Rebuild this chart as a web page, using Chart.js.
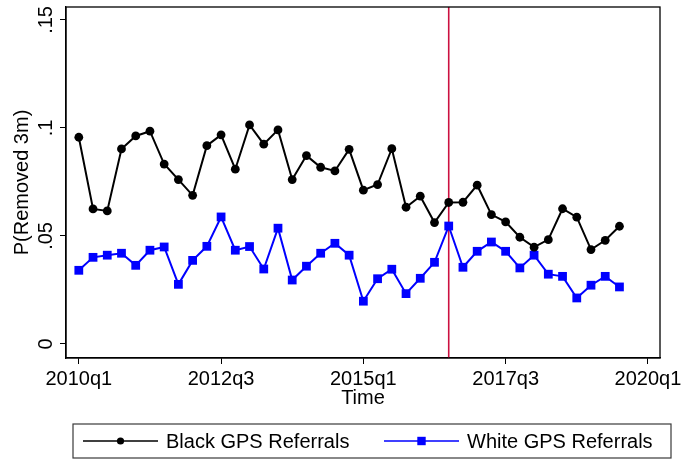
<!DOCTYPE html>
<html>
<head>
<meta charset="utf-8">
<script src="https://cdn.jsdelivr.net/npm/chart.js@4/dist/chart.umd.min.js"></script>
<style>
  html, body { margin: 0; padding: 0; background: #fff; }
  #wrap { width: 682px; height: 464px; }
</style>
</head>
<body>
<div id="wrap"><canvas id="c" width="682" height="464"></canvas></div>
<script>
// Quarterly series, 2010q1 .. 2019q3
const quarters = [
  '2010q1','2010q2','2010q3','2010q4','2011q1','2011q2','2011q3','2011q4',
  '2012q1','2012q2','2012q3','2012q4','2013q1','2013q2','2013q3','2013q4',
  '2014q1','2014q2','2014q3','2014q4','2015q1','2015q2','2015q3','2015q4',
  '2016q1','2016q2','2016q3','2016q4','2017q1','2017q2','2017q3','2017q4',
  '2018q1','2018q2','2018q3','2018q4','2019q1','2019q2','2019q3'
];
const blackGps = [
  0.0957, 0.0625, 0.0616, 0.0903, 0.0963, 0.0985, 0.0833, 0.0761,
  0.0688, 0.0918, 0.0968, 0.0809, 0.1014, 0.0925, 0.0991, 0.0761,
  0.0872, 0.0818, 0.0801, 0.0901, 0.0712, 0.0738, 0.0904, 0.0633,
  0.0684, 0.0562, 0.0655, 0.0656, 0.0735, 0.0599, 0.0565, 0.0494,
  0.0448, 0.0483, 0.0626, 0.0587, 0.0437, 0.0480, 0.0545
];
const whiteGps = [
  0.0341, 0.0401, 0.0411, 0.0420, 0.0364, 0.0434, 0.0449, 0.0276,
  0.0387, 0.0452, 0.0588, 0.0434, 0.0451, 0.0347, 0.0536, 0.0296,
  0.0360, 0.0420, 0.0466, 0.0411, 0.0198, 0.0302, 0.0346, 0.0233,
  0.0304, 0.0378, 0.0546, 0.0355, 0.0429, 0.0472, 0.0429, 0.0352,
  0.0411, 0.0323, 0.0313, 0.0213, 0.0272, 0.0313, 0.0264
];
const xTickLabels = ['2010q1', '2012q3', '2015q1', '2017q3', '2020q1'];
const yTickValues = [0, 0.05, 0.1, 0.15];
const policyQuarter = '2016q3';
const seriesNames = ['Black GPS Referrals', 'White GPS Referrals'];

const FONT = "'Liberation Sans', Arial, Helvetica, sans-serif";

// quarter label -> number of quarters since 2010q1
function quarterIndex(label) {
  const year = parseInt(label.slice(0, 4), 10);
  const q = parseInt(label.slice(5), 10);
  return (year - 2010) * 4 + (q - 1);
}
// Stata-style number format: 0.05 -> ".05"
function fmt(v) {
  if (v === 0) return '0';
  return String(+v.toFixed(4)).replace(/^0\./, '.');
}

const toPoints = vals => vals.map((v, i) => ({ x: quarterIndex(quarters[i]), y: v }));

// vertical policy line, under the series
const policyLine = {
  id: 'policyLine',
  beforeDatasetsDraw(chart) {
    const { ctx, chartArea, scales } = chart;
    const px = scales.x.getPixelForValue(quarterIndex(policyQuarter));
    ctx.save();
    ctx.strokeStyle = '#cc1040';
    ctx.lineWidth = 1.6;
    ctx.beginPath();
    ctx.moveTo(px, chartArea.top);
    ctx.lineTo(px, chartArea.bottom);
    ctx.stroke();
    ctx.restore();
  }
};

// plot frame, rotated y tick labels and the boxed legend
const frameAndLegend = {
  id: 'frameAndLegend',
  afterDraw(chart) {
    const { ctx, chartArea, scales } = chart;
    ctx.save();
    ctx.strokeStyle = '#000';
    ctx.lineWidth = 1.3;
    ctx.strokeRect(chartArea.left, chartArea.top, chartArea.right - chartArea.left, chartArea.bottom - chartArea.top);

    // y tick labels, reading bottom to top
    ctx.fillStyle = '#000';
    ctx.font = '20px ' + FONT;
    yTickValues.forEach(v => {
      const py = scales.y.getPixelForValue(v);
      ctx.save();
      ctx.translate(52, py);
      ctx.rotate(-Math.PI / 2);
      ctx.textAlign = 'center';
      ctx.textBaseline = 'alphabetic';
      ctx.fillText(fmt(v), 0, 0);
      ctx.restore();
    });

    // legend
    const box = { left: 73, top: 424, right: 671, bottom: 458 };
    ctx.strokeStyle = '#3a3a3a';
    ctx.lineWidth = 1.2;
    ctx.strokeRect(box.left, box.top, box.right - box.left, box.bottom - box.top);
    const cy = (box.top + box.bottom) / 2;
    const starts = [83, 384];
    chart.data.datasets.forEach((ds, i) => {
      const x0 = starts[i];
      const x1 = x0 + 75;
      const mx = (x0 + x1) / 2;
      ctx.strokeStyle = ds.borderColor;
      ctx.lineWidth = 1.6;
      ctx.beginPath();
      ctx.moveTo(x0, cy);
      ctx.lineTo(x1, cy);
      ctx.stroke();
      ctx.fillStyle = ds.pointBackgroundColor;
      if (ds.pointStyle === 'rect') {
        const s = 4.2;
        ctx.fillRect(mx - s, cy - s, 2 * s, 2 * s);
      } else {
        ctx.beginPath();
        ctx.arc(mx, cy, 3.6, 0, Math.PI * 2);
        ctx.fill();
      }
      ctx.fillStyle = '#000';
      ctx.font = '20px ' + FONT;
      ctx.textAlign = 'left';
      ctx.textBaseline = 'middle';
      ctx.fillText(ds.label, x1 + 8, cy + 1);
    });
    ctx.restore();
  }
};

new Chart(document.getElementById('c'), {
  type: 'line',
  data: {
    datasets: [
      {
        label: seriesNames[0],
        data: toPoints(blackGps),
        borderColor: '#000000',
        backgroundColor: '#000000',
        pointBackgroundColor: '#000000',
        pointBorderColor: '#000000',
        borderWidth: 2,
        pointStyle: 'circle',
        pointRadius: 4.4,
        pointBorderWidth: 0,
        tension: 0
      },
      {
        label: seriesNames[1],
        data: toPoints(whiteGps),
        borderColor: '#0000ff',
        backgroundColor: '#0000ff',
        pointBackgroundColor: '#0000ff',
        pointBorderColor: '#0000ff',
        borderWidth: 2,
        pointStyle: 'rect',
        pointRadius: 6.2,
        pointBorderWidth: 0,
        tension: 0
      }
    ]
  },
  options: {
    responsive: false,
    animation: false,
    devicePixelRatio: 1,
    layout: { padding: { top: 7, right: 22, left: 0, bottom: 0 } },
    plugins: { legend: { display: false }, tooltip: { enabled: false } },
    scales: {
      x: {
        type: 'linear',
        min: -0.9,
        max: 40.85,
        afterBuildTicks: s => { s.ticks = xTickLabels.map(l => ({ value: quarterIndex(l) })); },
        afterFit: s => { s.height = 106; s.paddingLeft = 0; s.paddingRight = 0; },
        ticks: {
          autoSkip: false,
          maxRotation: 0,
          minRotation: 0,
          color: '#000',
          font: { family: FONT, size: 20 },
          padding: 3,
          callback: v => {
            const l = xTickLabels.find(t => quarterIndex(t) === v);
            return l === undefined ? '' : l;
          }
        },
        grid: { drawOnChartArea: false, drawTicks: true, tickLength: 6, color: '#000', lineWidth: 1 },
        border: { display: true, color: '#000', width: 1.3 },
        title: {
          display: true,
          text: 'Time',
          color: '#000',
          font: { family: FONT, size: 20 },
          padding: { top: 0, bottom: 54 }
        }
      },
      y: {
        min: -0.0065,
        max: 0.156,
        afterBuildTicks: s => { s.ticks = yTickValues.map(v => ({ value: v })); },
        afterFit: s => { s.width = 66; s.paddingTop = 0; s.paddingBottom = 0; },
        ticks: { display: false },
        grid: { drawOnChartArea: false, drawTicks: true, tickLength: 6, color: '#000', lineWidth: 1 },
        border: { display: true, color: '#000', width: 1.3 },
        title: {
          display: true,
          text: 'P(Removed 3m)',
          color: '#000',
          font: { family: FONT, size: 20 },
          padding: { top: 10, bottom: 0 }
        }
      }
    }
  },
  plugins: [policyLine, frameAndLegend]
});
</script>
</body>
</html>
